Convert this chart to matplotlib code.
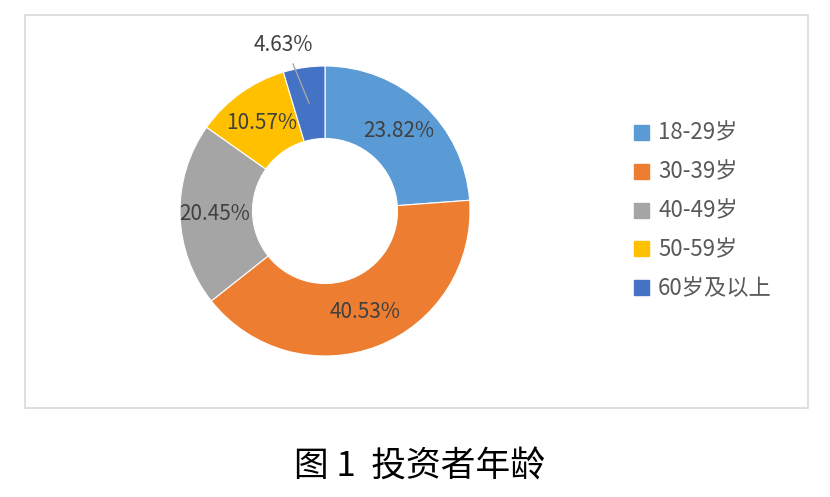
import matplotlib
matplotlib.use("Agg")
import matplotlib.pyplot as plt
from matplotlib.patches import Rectangle

plt.rcParams["font.family"] = ["Noto Sans CJK SC", "DejaVu Sans"]

labels = ["18-29岁", "30-39岁", "40-49岁", "50-59岁", "60岁及以上"]
shares = [23.82, 40.53, 20.45, 10.57, 4.63]
colors = ["#5B9BD5", "#ED7D31", "#A5A5A5", "#FFC000", "#4472C4"]
caption = "图 1  投资者年龄"

W, H = 830, 497
fig = plt.figure(figsize=(W / 100, H / 100), dpi=100)
fig.patch.set_facecolor("white")

# chart frame
fig.add_artist(Rectangle((25 / W, 1 - 408 / H), 783 / W, 393 / H,
                         transform=fig.transFigure, fill=False,
                         edgecolor="#D9D9D9", lw=1.2))

# donut: centre (325, 211), radius 145 px
R = 145
ax = fig.add_axes([(325 - R) / W, 1 - (211 + R) / H, 2 * R / W, 2 * R / H])
wedges, _ = ax.pie(shares, colors=colors, startangle=90, counterclock=False,
                   radius=1.0, wedgeprops=dict(width=0.5, edgecolor="white",
                                               linewidth=0.8))
ax.set_xlim(-1, 1); ax.set_ylim(-1, 1)
ax.set_aspect("equal")
ax.axis("off")

def px(x, y):
    return ((x - (325 - R)) / R - 1, 1 - (y - (211 - R)) / R)

lab_pos = [(399, 131), (365, 312), (215, 214), (262, 123), (283, 45)]
for s, (x, y) in zip(shares, lab_pos):
    ax.text(*px(x, y), f"{s:.2f}%", ha="center", va="center",
            fontsize=15, color="#404040", clip_on=False)
# leader line for the small slice
x0, y0 = px(293, 64)
x1, y1 = px(309, 103)
ax.plot([x0, x1], [y0, y1], color="#A6A6A6", lw=1, clip_on=False)

# legend
for i, (lab, c) in enumerate(zip(labels, colors)):
    yc = 133 + i * 38.8
    fig.add_artist(Rectangle((634 / W, 1 - (yc + 7) / H), 15 / W, 15 / H,
                             transform=fig.transFigure, color=c))
    fig.text(658 / W, 1 - yc / H, lab, ha="left", va="center",
             fontsize=16, color="#595959")

fig.text(419 / W, 1 - 467 / H, caption, ha="center", va="center",
         fontsize=25, color="black")

fig.savefig("out.png", dpi=100)
